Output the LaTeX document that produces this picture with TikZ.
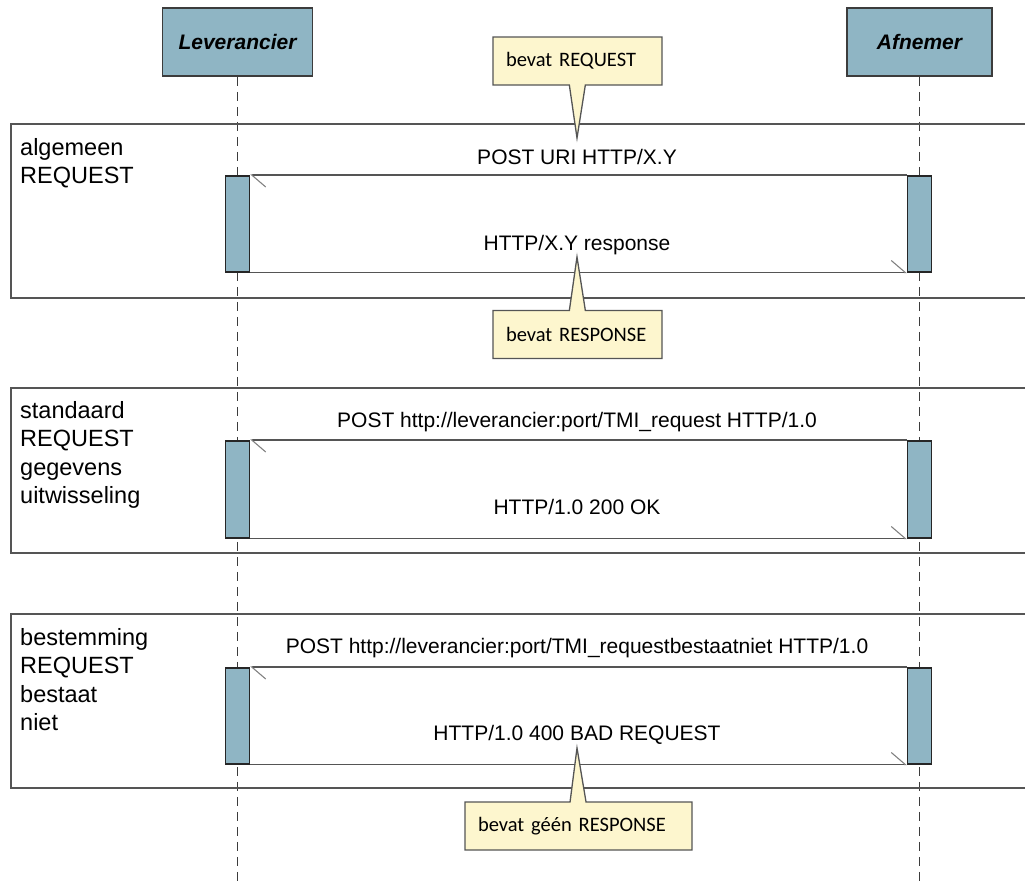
\documentclass[tikz,border=0pt]{standalone}
\usepackage{fontspec}
\setmainfont{Liberation Sans}
\newfontfamily\calibri{Carlito}
\usetikzlibrary{shapes.callouts,arrows.meta}
\definecolor{hdrfill}{RGB}{143,181,196}
\definecolor{notefill}{RGB}{253,246,206}
\definecolor{linegray}{RGB}{85,85,85}
\definecolor{edgegray}{RGB}{60,60,60}
\tikzset{
 head/.style={draw=edgegray, line width=1.5pt, fill=hdrfill, minimum height=68pt, inner sep=0pt, font=\fontsize{21}{25}\selectfont\bfseries\itshape},
 lifeline/.style={draw=edgegray, line width=1.2pt, dash pattern=on 9pt off 6pt},
 actbar/.style={draw=black!85, line width=1.5pt, fill=hdrfill, minimum width=24pt, inner sep=0pt, anchor=north},
 frag/.style={draw=linegray, line width=1.6pt, inner sep=0pt, anchor=north west, minimum width=1040pt},
 fraglabel/.style={anchor=north west, inner sep=0pt, align=left, font=\fontsize{23.5}{28.5}\selectfont},
 msg/.style={draw=linegray, line width=1.6pt, -{Straight Barb[harpoon, length=14pt, width=24pt, line width=1.1pt, color=linegray!75]}},
 msglabel/.style={anchor=base, inner sep=0pt, font=\fontsize{21}{25}\selectfont},
 note/.style={rectangle callout, draw=linegray, line width=1.3pt, fill=notefill, callout pointer width=16pt, minimum height=48pt, inner xsep=13pt, inner ysep=0pt, align=left, font=\calibri\fontsize{20.5}{24}\selectfont},
}
\begin{document}
\begin{tikzpicture}[x=1pt,y=-1pt]
\useasboundingbox (0,0) rectangle (1025,881);
\clip (0,0) rectangle (1025,881);
% headers
\node[head, minimum width=150pt] (lev) at (237.5,42) {Leverancier};
\node[head, minimum width=145pt] (afn) at (919.5,42) {Afnemer};
\coordinate (levend) at (237.5,881);
\coordinate (afnend) at (919.5,881);
\draw[lifeline] (lev.south) -- (levend);
\draw[lifeline] (afn.south) -- (afnend);
% fragments
\node[frag, minimum height=174pt] (f1) at (10,123) {};
\node[frag, minimum height=165pt] (f2) at (10,387) {};
\node[frag, minimum height=174pt] (f3) at (10,613) {};
\node[fraglabel] (f1l) at (20,138) {algemeen\\REQUEST};
\node[fraglabel] (f2l) at (20,401) {standaard\\REQUEST\\gegevens\\uitwisseling};
\node[fraglabel] (f3l) at (20,628) {bestemming\\REQUEST\\bestaat\\niet};
% activation bars
\node[actbar, minimum height=96pt] (l1) at (237.5,175) {};
\node[actbar, minimum height=96pt] (a1) at (919.5,175) {};
\node[actbar, minimum height=97pt] (l2) at (237.5,440) {};
\node[actbar, minimum height=97pt] (a2) at (919.5,440) {};
\node[actbar, minimum height=96pt] (l3) at (237.5,667) {};
\node[actbar, minimum height=96pt] (a3) at (919.5,667) {};
% messages
\draw[msg] (a1.north west) -- (l1.north east);
\draw[msg] (l1.south east) -- (a1.south west);
\draw[msg] (a2.north west) -- (l2.north east);
\draw[msg] (l2.south east) -- (a2.south west);
\draw[msg] (a3.north west) -- (l3.north east);
\draw[msg] (l3.south east) -- (a3.south west);
% message labels
\node[msglabel] (m1a) at (577,164.5) {POST URI HTTP/X.Y};
\node[msglabel] (m1b) at (577,250.5) {HTTP/X.Y response};
\node[msglabel] (m2a) at (577,427.5) {POST http://leverancier:port/TMI\_request HTTP/1.0};
\node[msglabel] (m2b) at (577,514.5) {HTTP/1.0 200 OK};
\node[msglabel] (m3a) at (577,653.5) {POST http://leverancier:port/TMI\_requestbestaatniet HTTP/1.0};
\node[msglabel] (m3b) at (577,740.5) {HTTP/1.0 400 BAD REQUEST};
% notes
\node[note, text width=143pt, callout absolute pointer={(577,138)}] (n1) at (577.5,61) {bevat REQUEST};
\node[note, text width=143pt, callout absolute pointer={(577,257)}] (n2) at (577.5,334.5) {bevat RESPONSE};
\node[note, text width=201pt, callout absolute pointer={(577,748)}] (n3) at (578.5,826) {bevat géén RESPONSE};
\end{tikzpicture}
\end{document}
